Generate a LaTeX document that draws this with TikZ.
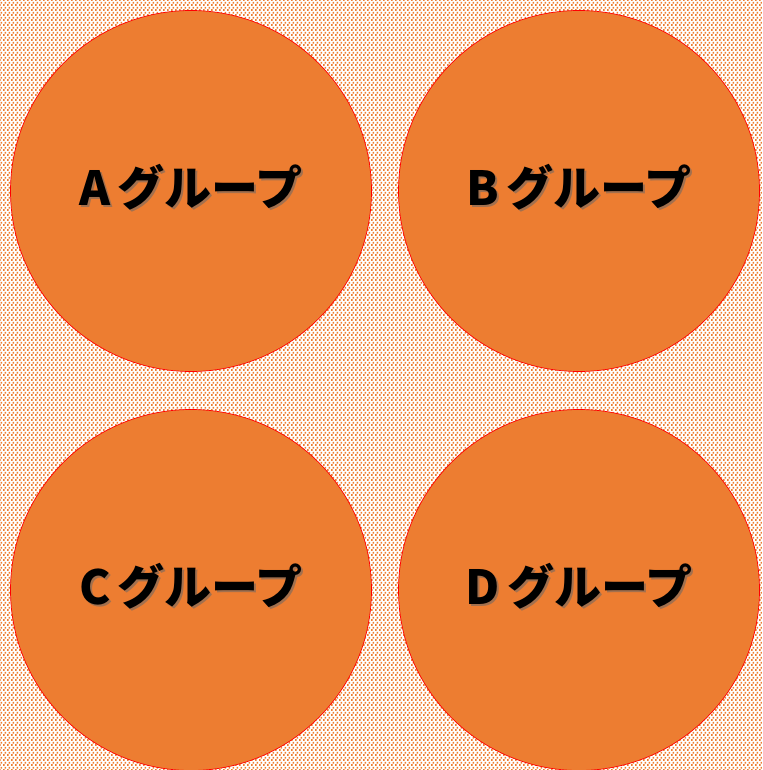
\documentclass[tikz,border=0pt]{standalone}
\usepackage{fontspec}
\newfontfamily\jpb{Noto Sans CJK JP Black}
\usetikzlibrary{patterns.meta}
\definecolor{grporange}{HTML}{ED7D31}
\pgfdeclarepattern{name=bgdots, type=uncolored,
  bottom left={\pgfpoint{0pt}{0pt}}, top right={\pgfpoint{4pt}{5.4pt}},
  tile size={\pgfpoint{4pt}{5.4pt}},
  code={\pgfpathrectangle{\pgfpoint{0pt}{0pt}}{\pgfpoint{2pt}{2pt}}
        \pgfpathrectangle{\pgfpoint{2pt}{2.7pt}}{\pgfpoint{2pt}{2pt}}
        \pgfusepath{fill}}}
\tikzset{
  grp/.style={circle, draw=red, line width=0.7pt, fill=grporange, minimum size=361pt, inner sep=0pt},
  lbl/.style={font=\jpb\fontsize{47}{50}\selectfont, text=black},
  shd/.style={font=\jpb\fontsize{47}{50}\selectfont, text=black!60, opacity=0.55}
}
\newcommand\grptext[1]{#1\hspace{7pt}グループ}
\begin{document}
\begin{tikzpicture}[x=1pt,y=-1pt]
\useasboundingbox (0,0) rectangle (762,770);
\fill[pattern={bgdots}, pattern color=grporange] (0,0) rectangle (762,770);
\node[grp] (a) at (191,191) {};
\node[grp] (b) at (579,191) {};
\node[grp] (c) at (191,590) {};
\node[grp] (d) at (579,590) {};
\foreach \n/\t in {a/A, b/B, c/C, d/D}{
  \node[shd] at ([xshift=2pt, yshift=2pt]\n.center) {\grptext{\t}};
  \node[lbl] (\n l) at ([yshift=4pt]\n.center) {\grptext{\t}};
}
\end{tikzpicture}
\end{document}
